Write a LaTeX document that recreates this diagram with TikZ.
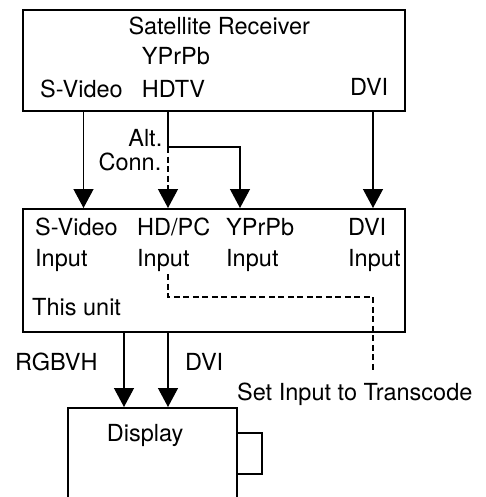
\documentclass[tikz,border=0pt]{standalone}
\usepackage{fontspec}
\setmainfont{TeX Gyre Heros}
\usetikzlibrary{arrows.meta}

\begin{document}
\begin{tikzpicture}[x=1pt, y=-1pt,
    every node/.style={font=\fontsize{23.5}{28}\selectfont},
    box/.style={draw, line width=2pt, inner sep=0pt},
    lbl/.style={anchor=base west, inner sep=0pt},
    wire/.style={line width=1.3pt},
    arr/.style={wire, -{Triangle[length=19pt,width=20pt]}},
    dline/.style={wire, dash pattern=on 6pt off 3.5pt}]

    \useasboundingbox (0,0) rectangle (486,497);

    % boxes
    \node[box, minimum width=382pt, minimum height=101pt] (sat) at (214,60.5) {};
    \node[box, minimum width=382pt, minimum height=123pt] (unit) at (214,270.5) {};
    \begin{scope}
      \clip (0,0) rectangle (486,497);
      \node[box, minimum width=169pt, minimum height=140pt] (disp) at (152.5,478) {};
    \end{scope}

    % labels
    \node[lbl] (satname) at (128.3,35) {Satellite Receiver};
    \node[lbl] (satyp) at (141.7,65) {YPrPb};
    \node[lbl] (satsv) at (40,98) {S-Video};
    \node[lbl] (sathd) at (141.7,98) {HDTV};
    \node[lbl] (satdvi) at (350,96) {DVI};
    \node[lbl, anchor=base east] (alt) at (162.5,146.5) {Alt.};
    \node[lbl, anchor=base east] (conn) at (161.5,170.5) {Conn.};

    \node[lbl] (svin) at (35,235) {S-Video};
    \node[lbl] (hdpc) at (137,235) {HD/PC};
    \node[lbl] (ypin) at (226,235) {YPrPb};
    \node[lbl] (dviin) at (348,235) {DVI};
    \node[lbl] (svin2) at (35,266) {Input};
    \node[lbl] (hdin) at (137,266) {Input};
    \node[lbl] (ypin2) at (226,266) {Input};
    \node[lbl] (dviin2) at (348,266) {Input};
    \node[lbl] (thisunit) at (32,315) {This unit};

    \node[lbl] (rgbvh) at (15,370) {RGBVH};
    \node[lbl] (dviout) at (185,370) {DVI};
    \node[lbl] (tcode) at (237,400) {Set Input to Transcode};
    \node[lbl] (dispname) at (106.7,441.7) {Display};

    % line positions
    \coordinate (sv) at (83.5,0);
    \coordinate (hd) at (168,0);
    \coordinate (yp) at (240,0);
    \coordinate (dv) at (373,0);
    \coordinate (rgb) at (124,0);
    \coordinate (split) at (168,147);
    \coordinate (bend) at (373,297);
    \coordinate (tcend) at (373,372);

    % connections
    \draw[arr] (sv |- sat.south) -- (sv |- unit.north);
    \draw[wire] (hd |- sat.south) -- (split);
    \draw[arr, dash pattern=on 6pt off 3.5pt] (split) -- (hd |- unit.north);
    \draw[arr] (split) -| (yp |- unit.north);
    \draw[arr] (dv |- sat.south) -- (dv |- unit.north);

    \draw[dline] (hdin.south -| hd) ++(0,3) |- (bend) -- (tcend);

    \draw[arr] (rgb |- unit.south) -- (rgb |- disp.north);
    \draw[arr] (hd |- unit.south) -- (hd |- disp.north);

    % knob on the display
    \draw[line width=2pt] (disp.east |- 0,433) -- ++(24,0) |- (disp.east |- 0,474);

\end{tikzpicture}
\end{document}
